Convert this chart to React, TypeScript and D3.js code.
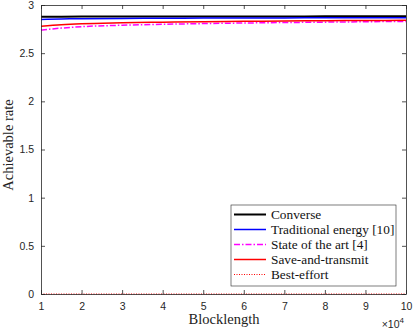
import React, { useEffect, useRef } from "react";
import * as d3 from "d3";

// blocklength in units of 10^4
const blocklengths = [1, 1.5, 2, 3, 4, 5, 6, 7, 8, 9, 10];
const converse = [2.879, 2.879, 2.88, 2.88, 2.88, 2.881, 2.881, 2.881, 2.882, 2.882, 2.882];
const traditional = [2.85, 2.855, 2.858, 2.861, 2.863, 2.864, 2.865, 2.866, 2.867, 2.868, 2.868];
const stateOfArt = [2.74, 2.76, 2.775, 2.79, 2.8, 2.807, 2.813, 2.818, 2.822, 2.826, 2.83];
const saveTransmit = [2.78, 2.795, 2.805, 2.815, 2.822, 2.827, 2.831, 2.834, 2.837, 2.839, 2.841];
const bestEffort = [0, 0, 0, 0, 0, 0, 0, 0, 0, 0, 0];

const xTicks = [1, 2, 3, 4, 5, 6, 7, 8, 9, 10];
const yTicks = [0, 0.5, 1, 1.5, 2, 2.5, 3];

const series = [
  { name: "Converse", values: converse, color: "#000000", width: 2, dash: "" },
  { name: "Traditional energy [10]", values: traditional, color: "#0000ff", width: 1.5, dash: "" },
  { name: "State of the art [4]", values: stateOfArt, color: "#ff00ff", width: 1.5, dash: "6,2,1.5,2" },
  { name: "Save-and-transmit", values: saveTransmit, color: "#ff0000", width: 1.5, dash: "" },
  { name: "Best-effort", values: bestEffort, color: "#ff0000", width: 1, dash: "1,1.5" },
];

const W = 415;
const H = 333;
const margin = { top: 5, right: 9, bottom: 39, left: 41 };
const serif = "Liberation Serif";
const sans = "Liberation Sans";

export default function App() {
  const ref = useRef<SVGSVGElement>(null);

  useEffect(() => {
    const svg = d3.select(ref.current);
    svg.selectAll("*").remove();

    const innerW = W - margin.left - margin.right;
    const innerH = H - margin.top - margin.bottom;
    const x = d3.scaleLinear().domain([1, 10]).range([0, innerW]);
    const y = d3.scaleLinear().domain([0, 3]).range([innerH, 0]);

    const axisColor = "#262626";
    const g = svg.append("g").attr("transform", `translate(${margin.left},${margin.top})`);

    g.append("rect").attr("width", innerW).attr("height", innerH).attr("fill", "white");

    const line = d3
      .line<number>()
      .x((_, i) => x(blocklengths[i]))
      .y((d) => y(d))
      .curve(d3.curveMonotoneX);

    series.forEach((s) => {
      g.append("path")
        .datum(s.values)
        .attr("d", line)
        .attr("fill", "none")
        .attr("stroke", s.color)
        .attr("stroke-width", s.width)
        .attr("stroke-dasharray", s.dash || null);
    });

    const tickLen = 4;

    // bottom axis + top ticks
    const xb = g.append("g").attr("transform", `translate(0,${innerH})`)
      .call(d3.axisBottom(x).tickValues(xTicks).tickSizeInner(-tickLen).tickSizeOuter(0).tickPadding(9).tickFormat(d3.format("d")));
    const xt = g.append("g")
      .call(d3.axisTop(x).tickValues(xTicks).tickSizeInner(-tickLen).tickSizeOuter(0).tickFormat(() => ""));
    const yl = g.append("g")
      .call(d3.axisLeft(y).tickValues(yTicks).tickSizeInner(-tickLen).tickSizeOuter(0).tickPadding(7).tickFormat((d) => String(d)));
    const yr = g.append("g").attr("transform", `translate(${innerW},0)`)
      .call(d3.axisRight(y).tickValues(yTicks).tickSizeInner(-tickLen).tickSizeOuter(0).tickFormat(() => ""));

    [xb, xt, yl, yr].forEach((a) => {
      a.attr("font-family", sans).attr("font-size", 10.5);
      a.selectAll("path").attr("stroke", axisColor).attr("stroke-width", 0.8);
      a.selectAll("line").attr("stroke", axisColor).attr("stroke-width", 0.8);
      a.selectAll("text").attr("fill", axisColor);
    });

    // axis labels
    svg.append("text")
      .attr("x", 224)
      .attr("y", 324)
      .attr("text-anchor", "middle")
      .attr("font-family", serif)
      .attr("font-size", 14.5)
      .attr("fill", "#222")
      .text("Blocklength");

    svg.append("text")
      .attr("transform", `translate(13,145) rotate(-90)`)
      .attr("text-anchor", "middle")
      .attr("font-family", serif)
      .attr("font-size", 14.5)
      .attr("fill", "#222")
      .text("Achievable rate");

    // exponent label
    const ex = svg.append("text")
      .attr("x", W - 11)
      .attr("y", 328)
      .attr("text-anchor", "end")
      .attr("font-family", sans)
      .attr("font-size", 10.5)
      .attr("fill", axisColor);
    ex.append("tspan").text("\u00d710");
    ex.append("tspan").attr("dy", -5).attr("font-size", 8).text("4");

    // legend
    const lg = svg.append("g").attr("transform", "translate(231,205)");
    lg.append("rect")
      .attr("width", 165)
      .attr("height", 81)
      .attr("fill", "white")
      .attr("stroke", "#262626")
      .attr("stroke-width", 0.6);
    series.forEach((s, i) => {
      const yy = 9.5 + i * 15;
      lg.append("line")
        .attr("x1", 3).attr("x2", 35).attr("y1", yy).attr("y2", yy)
        .attr("stroke", s.color)
        .attr("stroke-width", s.width)
        .attr("stroke-dasharray", s.dash || null);
      lg.append("text")
        .attr("x", 40)
        .attr("y", yy + 4)
        .attr("font-family", serif)
        .attr("font-size", 13.3)
        .attr("fill", "#111")
        .text(s.name);
    });
  }, []);

  return (
    <svg ref={ref} width={W} height={H} style={{ position: "absolute", left: 0, top: 0, background: "white" }} />
  );
}
